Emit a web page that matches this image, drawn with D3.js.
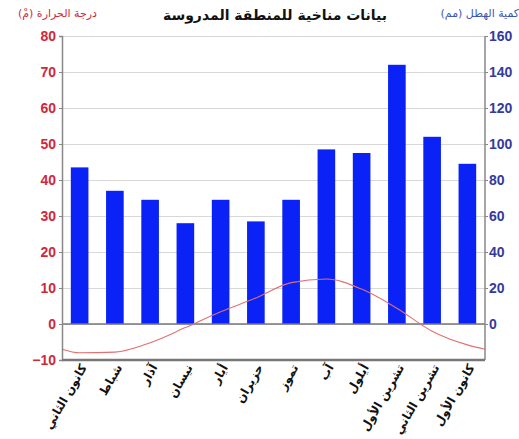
<!DOCTYPE html>
<html lang="ar">
<head>
<meta charset="UTF-8">
<title>بيانات مناخية للمنطقة المدروسة</title>
<script src="https://d3js.org/d3.v7.min.js"></script>
<style>
    body { margin: 0; background: #fff; }
    svg { display: block; }
    .tick text { font-family: "Liberation Sans", Arial, sans-serif; font-weight: bold; font-size: 14px; }
    .ar { font-family: "DejaVu Sans", sans-serif; }
</style>
</head>
<body>
<svg id="chart" width="519" height="439"></svg>
<script>
    // data
    const months = ["كانون الثاني", "شباط", "آذار", "نيسان", "أيار", "حزيران", "تموز", "آب", "أيلول", "تشرين الأول", "تشرين الثاني", "كانون الأول"];
    const rain = [87, 74, 69, 56, 69, 57, 69, 97, 95, 144, 104, 89];          // mm, right axis
    const temp = [-8.0, -7.8, -5.2, -1.0, 3.4, 7.2, 11.5, 12.5, 9.7, 4.4, -2.0, -5.8]; // °C, left axis
    const tempEdges = [-7.0, -7.0];   // line value at the left and right plot edges
    const tempTicks = [-10, 0, 10, 20, 30, 40, 50, 60, 70, 80];
    const rainTicks = [0, 20, 40, 60, 80, 100, 120, 140, 160];

    const svg = d3.select("#chart");
    const plotL = 62, plotR = 485, plotT = 36, plotB = 360;

    const x = d3.scaleBand().domain(months).range([plotL, plotR]).paddingInner(0.5).paddingOuter(0.25);
    const yT = d3.scaleLinear().domain([-10, 80]).range([plotB, plotT]);
    const yR = d3.scaleLinear().domain([-20, 160]).range([plotB, plotT]);

    // grid lines
    svg.append("g")
        .attr("transform", `translate(${plotL},0)`)
        .call(d3.axisLeft(yT).tickValues(tempTicks).tickSize(-(plotR - plotL)).tickFormat(""))
        .call(g => g.select(".domain").remove())
        .call(g => g.selectAll("line").attr("stroke", "#d8d8d8"));

    // bars
    svg.append("g").selectAll("rect")
        .data(rain)
        .join("rect")
        .attr("x", (d, i) => x(months[i]))
        .attr("width", x.bandwidth())
        .attr("y", d => yR(d))
        .attr("height", d => yR(0) - yR(d))
        .attr("fill", "#0a22f5");

    // zero line
    svg.append("line")
        .attr("x1", plotL).attr("x2", plotR)
        .attr("y1", yT(0)).attr("y2", yT(0))
        .attr("stroke", "#777").attr("stroke-width", 1.5);

    // temperature line
    const pts = [[plotL, tempEdges[0]]]
        .concat(temp.map((t, i) => [x(months[i]) + x.bandwidth() / 2, t]))
        .concat([[plotR, tempEdges[1]]]);
    svg.append("path")
        .datum(pts)
        .attr("fill", "none")
        .attr("stroke", "#e27070")
        .attr("stroke-width", 1.1)
        .attr("d", d3.line().x(d => d[0]).y(d => yT(d[1])).curve(d3.curveMonotoneX));

    // left axis
    const gl = svg.append("g")
        .attr("transform", `translate(${plotL},0)`)
        .call(d3.axisLeft(yT).tickValues(tempTicks).tickSize(3).tickPadding(3));
    gl.select(".domain").attr("stroke", "#888").attr("stroke-width", 1.5);
    gl.selectAll("line").attr("stroke", "#888");
    gl.selectAll("text").attr("fill", "#d0283a");

    // right axis
    const gr = svg.append("g")
        .attr("transform", `translate(${plotR},0)`)
        .call(d3.axisRight(yR).tickValues(rainTicks).tickSize(3).tickPadding(1));
    gr.select(".domain").attr("stroke", "#888").attr("stroke-width", 1.5)
        .attr("d", `M0,${plotT}V${plotB}`);
    gr.selectAll("line").attr("stroke", "#888");
    gr.selectAll("text").attr("fill", "#353a9c");

    // bottom axis
    const gb = svg.append("g")
        .attr("transform", `translate(0,${plotB})`)
        .call(d3.axisBottom(x).tickSize(0).tickPadding(0));
    gb.select(".domain").attr("stroke", "#777").attr("stroke-width", 2.5)
        .attr("d", `M${plotL},0H${plotR}`);
    gb.selectAll("text")
        .attr("class", "ar")
        .attr("fill", "#111")
        .style("font-family", "'DejaVu Sans', sans-serif")
        .style("font-size", "12px")
        .style("font-weight", "bold")
        .attr("text-anchor", "end")
        .attr("dy", "0.55em")
        .attr("transform", "translate(2,4) rotate(-60)");

    // titles
    svg.append("text")
        .attr("class", "ar")
        .attr("x", 275).attr("y", 20)
        .attr("text-anchor", "middle")
        .attr("font-weight", "bold").attr("font-size", 14)
        .attr("fill", "#111")
        .text("بيانات مناخية للمنطقة المدروسة");

    svg.append("text")
        .attr("class", "ar")
        .attr("x", 97).attr("y", 17)
        .attr("text-anchor", "end")
        .attr("font-size", 11)
        .attr("fill", "#d0283a")
        .text("درجة الحرارة (مْ)");

    svg.append("text")
        .attr("class", "ar")
        .attr("x", 519).attr("y", 17)
        .attr("text-anchor", "end")
        .attr("font-size", 11)
        .attr("fill", "#3a55b5")
        .text("كمية الهطل (مم)");
</script>
</body>
</html>
